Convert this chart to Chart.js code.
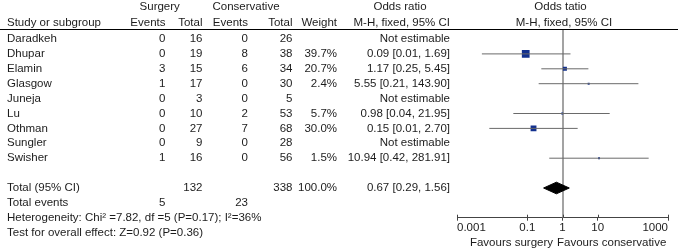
<!DOCTYPE html>
<html><head><meta charset="utf-8">
<script src="https://cdn.jsdelivr.net/npm/chart.js@4.4.1/dist/chart.umd.min.js"></script>
<style>html,body{margin:0;padding:0;background:#fff;overflow:hidden;} #wrap{width:678px;height:251px;position:relative;} canvas{display:block;}</style>
</head><body><div id="wrap"><canvas id="c" width="678" height="251"></canvas></div>
<script>
// ---- data ----
const studies = ['Daradkeh','Dhupar','Elamin','Glasgow','Juneja','Lu','Othman','Sungler','Swisher'];
const surgEvents = [0,0,3,1,0,0,0,0,1];
const surgTotal = [16,19,15,17,3,10,27,9,16];
const consEvents = [0,8,6,0,0,2,7,0,0];
const consTotal = [26,38,34,30,5,53,68,28,56];
const weights = [null,39.7,20.7,2.4,null,5.7,30.0,null,1.5];
const oddsRatio = [null,0.09,1.17,5.55,null,0.98,0.15,null,10.94];
const ciLow = [null,0.0051,0.25,0.21,null,0.04,0.0083,null,0.42];
const ciHigh = [null,1.69,5.45,143.90,null,21.95,2.70,null,281.91];
const totalSurg = 132, totalCons = 338, totalWeight = 100.0;
const totalOR = 0.67, totalLow = 0.29, totalHigh = 1.56;
const totalEventsSurg = 5, totalEventsCons = 23;
const heterogeneityText = 'Heterogeneity: Chi² =7.82, df =5 (P=0.17); I²=36%';
const overallText = 'Test for overall effect: Z=0.92 (P=0.36)';
const tickValues = [0.001, 0.1, 1, 10, 1000];
const tickLabels = ['0.001','0.1','1','10','1000'];

// ---- style ----
const FONT = '"Liberation Sans", Arial, Helvetica, sans-serif';
const FS = 11.5;
const TXT = '#1c1c1c';
const BLUE = '#12308e';
const TOTAL_ROW = 10;

const est = studies.map((s,i)=>i).filter(i=>oddsRatio[i]!==null);
const fmt = v => v.toFixed(2);

const datasets = [];
est.forEach(i=>{
  datasets.push({data:[{x:ciLow[i],y:i},{x:ciHigh[i],y:i}], showLine:true, borderColor:'#6a6a6a', borderWidth:1, pointRadius:0, fill:false});
});
datasets.push({
  data: est.map(i=>({x:oddsRatio[i], y:i})),
  pointStyle:'rect',
  pointRadius: est.map(i=>Math.max(2, weights[i]*0.195)/Math.SQRT2),
  backgroundColor: BLUE, borderColor: BLUE, borderWidth:0, showLine:false
});
const dh = 0.39;
datasets.push({
  data:[{x:totalLow,y:TOTAL_ROW},{x:totalOR,y:TOTAL_ROW-dh},{x:totalHigh,y:TOTAL_ROW},{x:totalOR,y:TOTAL_ROW+dh},{x:totalLow,y:TOTAL_ROW}],
  showLine:true, fill:'shape', backgroundColor:'#000', borderColor:'#000', borderWidth:1, pointRadius:0, tension:0
});

const tablePlugin = {
  id:'table',
  beforeDatasetsDraw(chart){
    const {ctx, chartArea, scales} = chart;
    const x1 = Math.round(scales.x.getPixelForValue(1));
    ctx.save();
    ctx.strokeStyle = '#858585'; ctx.lineWidth = 1.5;
    ctx.beginPath(); ctx.moveTo(x1, chartArea.top); ctx.lineTo(x1, chartArea.bottom); ctx.stroke();
    ctx.restore();
  },
  afterDraw(chart){
    const {ctx, chartArea, scales} = chart;
    const ys = scales.y, xs = scales.x;
    ctx.save();
    // header line
    ctx.strokeStyle = '#000'; ctx.lineWidth = 1;
    ctx.beginPath(); ctx.moveTo(0, 29.5); ctx.lineTo(678, 29.5); ctx.stroke();
    // upward part of tick marks
    ctx.strokeStyle = '#444';
    tickValues.forEach(v=>{
      const px = Math.round(xs.getPixelForValue(v)) + 0.5;
      ctx.beginPath(); ctx.moveTo(px, chartArea.bottom - 3); ctx.lineTo(px, chartArea.bottom); ctx.stroke();
    });
    ctx.font = FS + 'px ' + FONT;
    ctx.fillStyle = TXT;
    ctx.textBaseline = 'middle';
    const T = (s, x, y, a) => { ctx.textAlign = a || 'left'; ctx.fillText(String(s), x, y); };
    // headers
    T('Surgery', 159.7, 7, 'center');
    T('Conservative', 246, 7, 'center');
    T('Odds ratio', 400, 7, 'center');
    T('Odds tatio', 560.5, 7, 'center');
    T('Study or subgroup', 7, 22.5);
    T('Events', 165.5, 22.5, 'right');
    T('Total', 202.5, 22.5, 'right');
    T('Events', 248, 22.5, 'right');
    T('Total', 292.5, 22.5, 'right');
    T('Weight', 337, 22.5, 'right');
    T('M-H, fixed, 95% CI', 450, 22.5, 'right');
    T('M-H, fixed, 95% CI', 564, 22.5, 'center');
    // study rows
    studies.forEach((s,i)=>{
      const y = ys.getPixelForValue(i);
      T(s, 7, y);
      T(surgEvents[i], 165.5, y, 'right');
      T(surgTotal[i], 202.5, y, 'right');
      T(consEvents[i], 248, y, 'right');
      T(consTotal[i], 292.5, y, 'right');
      if (weights[i] !== null) {
        T(weights[i].toFixed(1)+'%', 337, y, 'right');
        T(fmt(oddsRatio[i])+' ['+fmt(ciLow[i])+', '+fmt(ciHigh[i])+']', 450, y, 'right');
      } else {
        T('Not estimable', 450, y, 'right');
      }
    });
    // totals
    let y = ys.getPixelForValue(TOTAL_ROW);
    T('Total (95% CI)', 7, y);
    T(totalSurg, 202.5, y, 'right');
    T(totalCons, 292.5, y, 'right');
    T(totalWeight.toFixed(1)+'%', 337, y, 'right');
    T(fmt(totalOR)+' ['+fmt(totalLow)+', '+fmt(totalHigh)+']', 450, y, 'right');
    y = ys.getPixelForValue(TOTAL_ROW+1);
    T('Total events', 7, y);
    T(totalEventsSurg, 165.5, y, 'right');
    T(totalEventsCons, 248, y, 'right');
    T(heterogeneityText, 7, ys.getPixelForValue(TOTAL_ROW+2));
    T(overallText, 7, ys.getPixelForValue(TOTAL_ROW+3));
    // favours
    T('Favours surgery', 553, 243, 'right');
    T('Favours conservative', 557, 243, 'left');
    ctx.restore();
  }
};

new Chart(document.getElementById('c'), {
  type:'scatter',
  data:{datasets},
  options:{
    responsive:false, animation:false, devicePixelRatio:1, events:[],
    layout:{padding:{left:457, right:10, top:29, bottom:16.5}},
    plugins:{legend:{display:false}, tooltip:{enabled:false}},
    scales:{
      x:{type:'logarithmic', min:0.001, max:1000, position:'bottom',
        afterBuildTicks: s => { s.ticks = tickValues.map(v=>({value:v})); },
        ticks:{autoSkip:false, maxRotation:0, minRotation:0, align:'inner', padding:0, color:TXT,
          font:{family:FONT, size:FS}, callback:(v,i)=>tickLabels[i]},
        grid:{display:true, drawOnChartArea:false, drawTicks:true, tickLength:3, color:'#444', lineWidth:1},
        border:{display:true, color:'#444', width:1}
      },
      y:{type:'linear', display:false, reverse:true, min:-0.6711, max:11.993}
    }
  },
  plugins:[tablePlugin]
});
</script></body></html>
